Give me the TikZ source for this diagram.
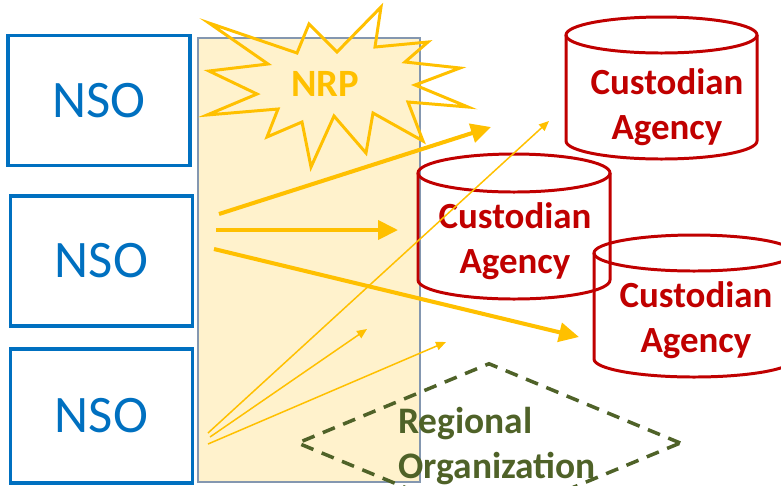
\documentclass[tikz,border=0pt]{standalone}
\usepackage{fontspec}
\setmainfont{Carlito}
\usetikzlibrary{positioning, shapes.geometric, arrows.meta}
\definecolor{nsoblue}{HTML}{0070C0}
\definecolor{nrpgold}{HTML}{FFC000}
\definecolor{nrpfill}{HTML}{FFF2CC}
\definecolor{nrpframe}{HTML}{8497B0}
\definecolor{agencyred}{HTML}{C00000}
\definecolor{regiongreen}{HTML}{4F6228}
\begin{document}
\begin{tikzpicture}
  [x=0.02cm,y=-0.02cm,
   nsobox/.style={draw=nsoblue,line width=2pt,rectangle,inner sep=0pt,minimum width=3.64cm,minimum height=2.6cm,text=nsoblue,font=\fontsize{30}{36}\selectfont},
   drum/.style={draw=agencyred,line width=1.7pt},
   agencytext/.style={text=agencyred,align=center,font=\bfseries\fontsize{21}{25.5}\selectfont},
   bigflow/.style={draw=nrpgold,line width=2.3pt,-{Triangle[length=0.4cm,width=0.38cm]}},
   smallflow/.style={draw=nrpgold,line width=0.85pt,-{Triangle[length=0.2cm,width=0.17cm]}}]
  \useasboundingbox (0,0) rectangle (781,485);
  \clip (0,0) rectangle (781,485);
  % NRP zone and star
  \node (nrpzone) at (309,260) [draw=nrpframe,fill=nrpfill,line width=0.85pt,inner sep=0pt,minimum width=4.44cm,minimum height=8.88cm] {};
  \draw [nrpgold,line width=1.7pt] (209,23) -- (297,53) -- (309,24) -- (337,52) -- (381,7) -- (375,47) -- (428,42) -- (405,62)
    -- (460,68) -- (415,85) -- (468,107) -- (408,102) -- (423,141) -- (373,113) -- (366,153) -- (334,116)
    -- (311,167) -- (302,122) -- (267,137) -- (278,109) -- (207,115) -- (257,94) -- (209,71) -- (268,64) -- cycle;
  \node (nrp) at (325,84) [text=nrpgold,font=\bfseries\fontsize{22}{26}\selectfont] {NRP};
  % NSOs
  \node (nso1) at (99,100.5) [nsobox] {NSO};
  \node (nso2) at (101.5,261) [nsobox] {NSO};
  \node (nso3) at (101.5,416) [nsobox,minimum height=2.68cm] {NSO};
  % custodian agencies
  \draw [drum] (661.5,35) ellipse [x radius=95.5,y radius=18];
  \draw [drum] (566,35) -- (566,141) arc [start angle=180,end angle=0,x radius=95.5,y radius=18] -- (757,35);
  \node (agency1) at (667,107) [agencytext] {Custodian\\Agency};
  \draw [drum] (514,173) ellipse [x radius=96,y radius=19];
  \draw [drum] (418,173) -- (418,280) arc [start angle=180,end angle=0,x radius=96,y radius=19] -- (610,173);
  \node (agency2) at (515,241) [agencytext] {Custodian\\Agency};
  \draw [drum] (694,253) ellipse [x radius=100,y radius=18];
  \draw [drum] (594,253) -- (594,359) arc [start angle=180,end angle=0,x radius=100,y radius=18] -- (794,253);
  \node (agency3) at (696,320) [agencytext] {Custodian\\Agency};
  % regional organization
  \node (region) at (489,443) [diamond,draw=regiongreen,line width=2pt,dash pattern=on 0.26cm off 0.18cm,inner sep=0pt,minimum width=7.68cm,minimum height=3.2cm] {};
  \node (regionlabel) at (398,478) [anchor=base west,align=left,inner sep=0pt,text=regiongreen,font=\bfseries\fontsize{21.3}{25.5}\selectfont] {Regional\\Organization};
  % flows
  \coordinate (big1s) at (219,214);
  \coordinate (big1e) at (491,127);
  \coordinate (big2s) at (216,230);
  \coordinate (big2e) at (398,230);
  \coordinate (big3s) at (214,249);
  \coordinate (big3e) at (579,337);
  \coordinate (small1s) at (208,433);
  \coordinate (small1e) at (549,121);
  \coordinate (small2s) at (210,437);
  \coordinate (small2e) at (367,329);
  \coordinate (small3s) at (208,444);
  \coordinate (small3e) at (446,342);
  \draw [bigflow] (big1s) -- (big1e);
  \draw [bigflow] (big2s) -- (big2e);
  \draw [bigflow] (big3s) -- (big3e);
  \draw [smallflow] (small1s) -- (small1e);
  \draw [smallflow] (small2s) -- (small2e);
  \draw [smallflow] (small3s) -- (small3e);
\end{tikzpicture}
\end{document}
